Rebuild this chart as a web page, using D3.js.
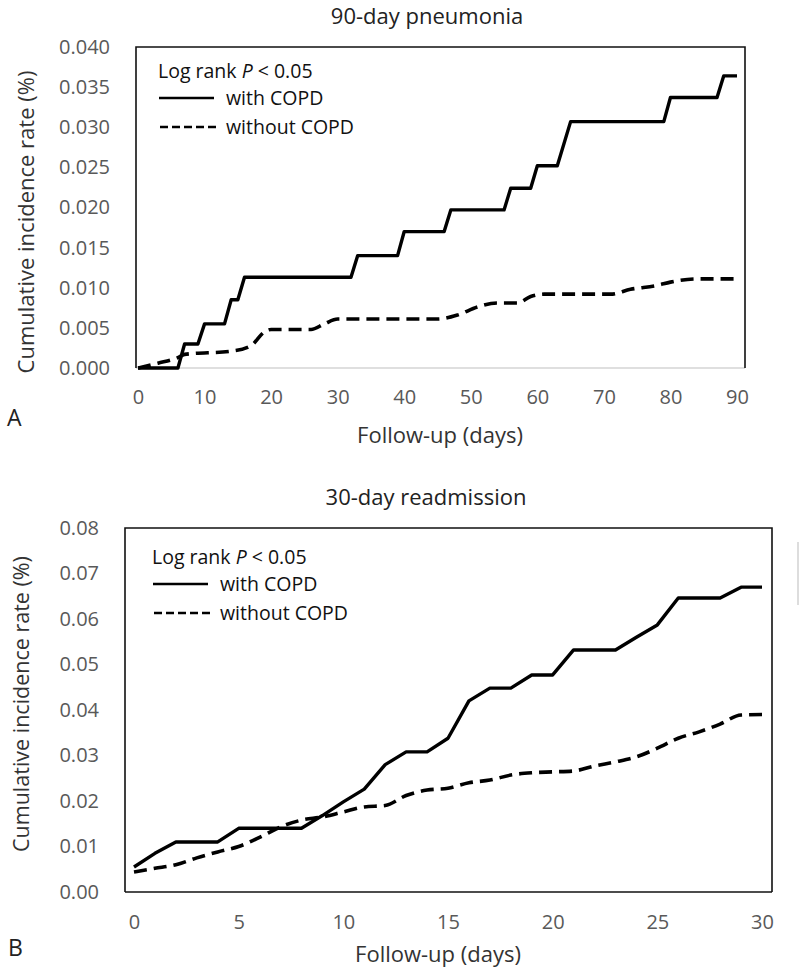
<!DOCTYPE html>
<html><head><meta charset="utf-8">
<script src="https://cdn.jsdelivr.net/npm/d3@7"></script>
<style>
body{margin:0;background:#fff;}
svg text{font-family:"Open Sans",sans-serif;}
</style></head>
<body>
<svg id="c" width="800" height="967"></svg>
<script>
// ---- Panel A: 90-day pneumonia ----
const titleA = "90-day pneumonia";
const xTicksA = [0,10,20,30,40,50,60,70,80,90];
const yTicksA = [0,0.005,0.010,0.015,0.020,0.025,0.030,0.035,0.040];
const copdDaysA = [0,6,7,9,10,13,14,15,16,32,33,39,40,46,47,55,56,59,60,63,65,79,80,87,88,90];
const copdValsA = [0,0,0.003,0.003,0.0055,0.0055,0.0085,0.0085,0.0113,0.0113,0.014,0.014,0.017,0.017,0.0197,0.0197,0.0224,0.0224,0.0252,0.0252,0.0307,0.0307,0.0337,0.0337,0.0364,0.0364];
const noCopdDaysA = [0,3,6,7,14,17,19,20,26,28,30,45,48,51,54,57,59,61,71,74,78,80,84,90];
const noCopdValsA = [0,0.0006,0.0013,0.0017,0.0021,0.0028,0.0045,0.0048,0.0048,0.0055,0.0061,0.0061,0.0066,0.0076,0.0081,0.0081,0.0089,0.0092,0.0092,0.0098,0.0103,0.0107,0.0111,0.0111];

// ---- Panel B: 30-day readmission ----
const titleB = "30-day readmission";
const xTicksB = [0,5,10,15,20,25,30];
const yTicksB = [0,0.01,0.02,0.03,0.04,0.05,0.06,0.07,0.08];
const daysB = [0,1,2,3,4,5,6,7,8,9,10,11,12,13,14,15,16,17,18,19,20,21,22,23,24,25,26,27,28,29,30];
const copdValsB = [0.0055,0.0085,0.011,0.011,0.011,0.014,0.014,0.014,0.014,0.0168,0.0198,0.0226,0.028,0.0308,0.0308,0.0338,0.042,0.0448,0.0448,0.0477,0.0477,0.0532,0.0532,0.0532,0.056,0.0587,0.0646,0.0646,0.0646,0.067,0.067];
const noCopdValsB = [0.0044,0.0052,0.006,0.0075,0.0088,0.0100,0.012,0.0143,0.0158,0.0165,0.0176,0.0187,0.019,0.0212,0.0224,0.0228,0.024,0.0246,0.0257,0.0262,0.0264,0.0266,0.0277,0.0286,0.0297,0.0316,0.0338,0.0352,0.0369,0.0389,0.039];

const legendTitle = "Log rank ";
const legendLabels = ["with COPD","without COPD"];
const yTitleA = "Cumulative incidence rate (%)";
const yTitleB = "Cumulative  incidence rate (%)";
const xTitle = "Follow-up (days)";

const svg = d3.select("#c");
const tickColor = "#595959";

function panel(o){
  const g = svg.append("g");
  const x = d3.scaleLinear().domain(o.xDomain).range(o.xRange);
  const y = d3.scaleLinear().domain(o.yDomain).range(o.yRange);
  const [bx0,bx1] = o.box;
  const yb = o.yRange[0], yt = o.yRange[1];
  g.append("line").attr("x1",bx0).attr("x2",bx1).attr("y1",yb).attr("y2",yb)
    .attr("stroke",o.bottomColor).attr("stroke-width",1.5);
  g.append("path").attr("d",`M${bx0},${yb}V${yt}H${bx1}V${yb}`)
    .attr("fill","none").attr("stroke","#111").attr("stroke-width",1.6);
  const xa = g.append("g").attr("transform",`translate(0,${yb})`)
    .call(d3.axisBottom(x).tickValues(o.xTicks).tickSize(0).tickPadding(o.xPad).tickFormat(d3.format("d")));
  xa.select(".domain").remove();
  xa.selectAll("text").attr("fill",tickColor).style("font-size","20px");
  const ya = g.append("g").attr("transform",`translate(${bx0},0)`)
    .call(d3.axisLeft(y).tickValues(o.yTicks).tickSize(0).tickPadding(o.yPad).tickFormat(d3.format(o.yFmt)));
  ya.select(".domain").remove();
  ya.selectAll("text").attr("fill",tickColor).style("font-size","20px");
  const solid = d3.line().x(d=>x(d[0])).y(d=>y(d[1])).curve(d3.curveLinear);
  const dash = d3.line().x(d=>x(d[0])).y(d=>y(d[1])).curve(d3.curveMonotoneX);
  g.append("path").datum(d3.zip(o.noDays,o.noVals)).attr("d",dash)
    .attr("fill","none").attr("stroke","#000").attr("stroke-width",3.6)
    .attr("stroke-dasharray","13,7");
  g.append("path").datum(d3.zip(o.copdDays,o.copdVals)).attr("d",solid)
    .attr("fill","none").attr("stroke","#000").attr("stroke-width",3.4).attr("stroke-linejoin","round");
  g.append("text").attr("x",o.titleX).attr("y",o.titleY).attr("text-anchor","middle")
    .attr("fill","#222").style("font-size","22px").text(o.title);
  const lx = o.legX, ly = o.legY;
  const t = g.append("text").attr("x",lx).attr("y",ly).attr("fill","#111").style("font-size","19.5px");
  t.append("tspan").text(legendTitle);
  t.append("tspan").attr("font-style","italic").text("P");
  t.append("tspan").text(" < 0.05");
  g.append("line").attr("x1",lx+1).attr("x2",lx+56).attr("y1",ly+20).attr("y2",ly+20)
    .attr("stroke","#000").attr("stroke-width",2.6);
  g.append("line").attr("x1",lx+2).attr("x2",lx+58).attr("y1",ly+49).attr("y2",ly+49)
    .attr("stroke","#000").attr("stroke-width",2.6).attr("stroke-dasharray","8,4");
  g.append("text").attr("x",lx+68).attr("y",ly+27).attr("fill","#111").style("font-size","19.5px").text(legendLabels[0]);
  g.append("text").attr("x",lx+68).attr("y",ly+56).attr("fill","#111").style("font-size","19.5px").text(legendLabels[1]);
  g.append("text").attr("transform",`translate(${o.yTitleX},${o.yTitleY}) rotate(-90)`)
    .attr("text-anchor","middle").attr("fill","#333").style("font-size",o.yTitleSize).text(o.yTitle);
  g.append("text").attr("x",o.xTitleX).attr("y",o.xTitleY).attr("text-anchor","middle")
    .attr("fill","#333").style("font-size","22px").text(xTitle);
  g.append("text").attr("x",o.letterX).attr("y",o.letterY).attr("fill","#222")
    .style("font-size","23px").text(o.letter);
}

panel({
  title:titleA, xDomain:[0,90], xRange:[138,737], yDomain:[0,0.04], yRange:[368,47],
  box:[136,745], bottomColor:"#d4d4d4", xTicks:xTicksA, yTicks:yTicksA, yFmt:".3f",
  xPad:22, yPad:26, copdDays:copdDaysA, copdVals:copdValsA, noDays:noCopdDaysA, noVals:noCopdValsA,
  titleX:427, titleY:24, legX:158, legY:78,
  yTitle:yTitleA, yTitleSize:"22px", yTitleX:34, yTitleY:222, xTitleX:440, xTitleY:443, letter:"A", letterX:7, letterY:426
});
panel({
  title:titleB, xDomain:[0,30], xRange:[134,762], yDomain:[0,0.08], yRange:[892,528],
  box:[125,772], bottomColor:"#111", xTicks:xTicksB, yTicks:yTicksB, yFmt:".2f",
  xPad:23, yPad:26, copdDays:daysB, copdVals:copdValsB, noDays:daysB, noVals:noCopdValsB,
  titleX:426, titleY:505, legX:152, legY:564,
  yTitle:yTitleB, yTitleSize:"21.5px", yTitleX:29, yTitleY:704, xTitleX:438, xTitleY:962, letter:"B", letterX:8, letterY:956
});
svg.append("line").attr("x1",798).attr("x2",798).attr("y1",542).attr("y2",605)
  .attr("stroke","#ddd").attr("stroke-width",2);
</script>
</body></html>
